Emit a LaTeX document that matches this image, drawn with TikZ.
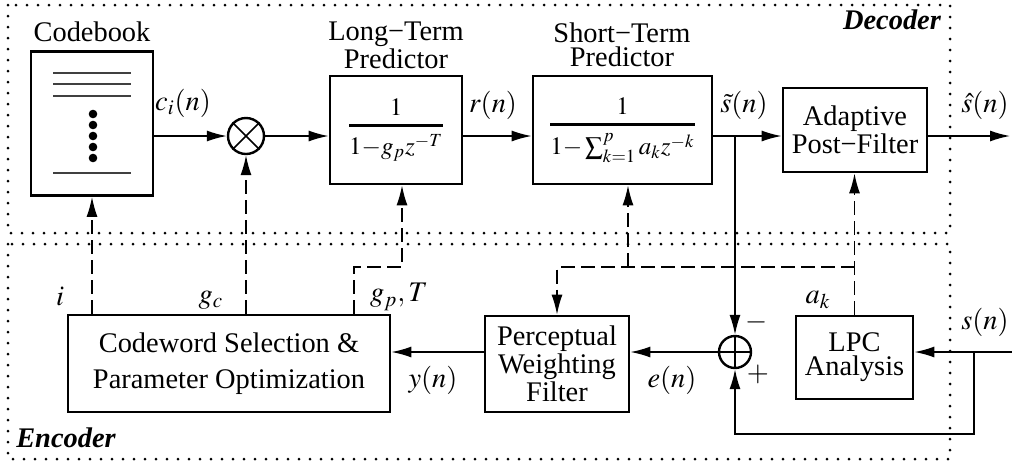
\documentclass[tikz,border=0pt]{standalone}
\usepackage{amsmath}
\usepackage{mathptmx}
\usepackage[no-math]{fontspec}
\setmainfont{Liberation Serif}
\usetikzlibrary{arrows.meta,calc}
\begin{document}
\begin{tikzpicture}[x=0.5pt,y=-0.5pt,
 every node/.style={font=\fontsize{14.2}{12}\selectfont},
 blk/.style={draw,line width=1.4pt,inner sep=0pt,align=center},
 conn/.style={line width=0.75pt},
 arr/.style={conn,-{Latex[length=10pt,width=5.5pt]}},
 dsh/.style={line width=0.7pt,dash pattern=on 7pt off 3pt},
 darr/.style={dsh,-{Latex[length=10pt,width=5.5pt]}},
 dotbox/.style={line width=1.5pt,line cap=round,dash pattern=on 0pt off 5.5pt},
 lbl/.style={inner sep=0pt},
 frc/.style={font=\fontsize{12.5}{13}\selectfont},
 cbline/.style={line width=1pt,black!75}
]
\useasboundingbox (0,0) rectangle (1012,462);
% regions
\draw[dotbox] (8,5) rectangle (950,233);
\draw[dotbox] (8,244) rectangle (950,459);
\node[lbl,font=\fontsize{14.2}{12}\selectfont\bfseries\itshape] (dec) at (892,20) {Decoder};
\node[lbl,font=\fontsize{14.2}{12}\selectfont\bfseries\itshape] (enc) at (66,438) {Encoder};
% codebook
\node[blk,minimum width=61pt,minimum height=72pt] (cb) at (92,123.5) {};
\node[lbl] (cbl) at (92,32) {Codebook};
\draw[cbline] (53,73) -- (131,73);
\draw[cbline] (53,84) -- (131,84);
\draw[cbline] (53,96) -- (131,96);
\draw[cbline] (53,173) -- (131,173);
\foreach \yy in {114,125,136,147,158} \fill (93,\yy) circle[radius=4.3];
% multiplier
\node[draw,circle,line width=1.2pt,minimum size=18pt,inner sep=0pt] (mul) at (246,136) {};
\draw[line width=0.8pt] (mul.north west) -- (mul.south east) (mul.north east) -- (mul.south west);
% long-term predictor
\node[blk,frc,minimum width=66pt,minimum height=54pt] (ltp) at (396,130) {$\genfrac{}{}{1.3pt}{0}{1}{1{-}g_p z^{-T}}$};
\node[lbl,align=center] (ltpl) at (396,45) {Long−Term\\Predictor};
% short-term predictor
\node[blk,frc,minimum width=89.5pt,minimum height=54pt] (stp) at (622.5,130) {$\genfrac{}{}{1.3pt}{0}{1}{1{-}\sum_{k=1}^{p} a_k z^{-k}}$};
\node[lbl,align=center] (stpl) at (622,45) {Short−Term\\Predictor};
% post filter
\node[blk,minimum width=72pt,minimum height=42pt] (apf) at (855,130) {Adaptive\\Post−Filter};
% sum
\node[draw,circle,line width=1.2pt,minimum size=16pt,inner sep=0pt] (sum) at (735,352) {};
\draw[line width=0.8pt] (sum.north) -- (sum.south) (sum.west) -- (sum.east);
% LPC
\node[blk,minimum width=58.5pt,minimum height=41.5pt] (lpc) at (854.5,357.5) {LPC\\Analysis};
% perceptual weighting
\node[blk,minimum width=72pt,minimum height=48pt] (pwf) at (557,364) {Perceptual\\Weighting\\Filter};
% codeword selection
\node[blk,minimum width=161pt,minimum height=48.5pt,font=\fontsize{14.2}{18}\selectfont] (cso) at (229,363.5) {Codeword Selection \&\\Parameter Optimization};
% coordinates
\coordinate (out) at (1010,136);
\coordinate (tap) at (735,136);
\coordinate (sin) at (1012,352);
\coordinate (tap2) at (974,352);
\coordinate (fbc) at (974,434);
\coordinate (gp) at (354,267);
\coordinate (gpt) at (402,267);
\coordinate (ak) at (854.5,267);
\coordinate (stpb) at (628,267);
% signal path
\draw[arr] (cb.east |- mul) -- (mul.west);
\draw[arr] (mul.east) -- (ltp.west |- mul);
\draw[arr] (ltp.east |- mul) -- (stp.west |- mul);
\draw[arr] (stp.east |- mul) -- (apf.west |- mul);
\draw[arr] (apf.east |- mul) -- (out);
\draw[arr] (tap) -- (sum.north);
\draw[arr] (sin) -- (lpc.east |- sin);
\draw[arr] (tap2) -- (fbc) -| (sum.south);
\draw[arr] (sum.west) -- (pwf.east |- sum);
\draw[arr] (pwf.west |- sum) -- (cso.east |- sum);
% parameter paths
\draw[darr] (cso.north -| cb.south) -- (cb.south);
\draw[darr] (cso.north -| mul.south) -- (mul.south);
\draw[darr] (cso.north -| gp) -- (gp) -- (gpt) -- (ltp.south -| gpt);
\draw[darr] (lpc.north) -- (apf.south -| lpc.north);
\draw[darr] (ak) -- (pwf.north |- ak) -- (pwf.north);
\draw[darr] (stpb) -- (stp.south -| stpb);
% labels
\node[lbl] (lci) at (183,103) {$c_i(n)$};
\node[lbl] (lr) at (493,105) {$r(n)$};
\node[lbl] (lst) at (744,105) {$\tilde{s}(n)$};
\node[lbl] (lsh) at (985,105) {$\hat{s}(n)$};
\node[lbl] (li) at (60,296) {$i$};
\node[lbl] (lgc) at (211,300) {$g_c$};
\node[lbl] (lgp) at (399,297) {$g_p,T$};
\node[lbl] (ly) at (433,380) {$y(n)$};
\node[lbl] (le) at (672,380) {$e(n)$};
\node[lbl] (lak) at (818,300) {$a_k$};
\node[lbl] (ls) at (985,322) {$s(n)$};
\node[lbl] (lm) at (757,322) {$-$};
\node[lbl] (lp) at (758,374) {$+$};
\end{tikzpicture}
\end{document}
